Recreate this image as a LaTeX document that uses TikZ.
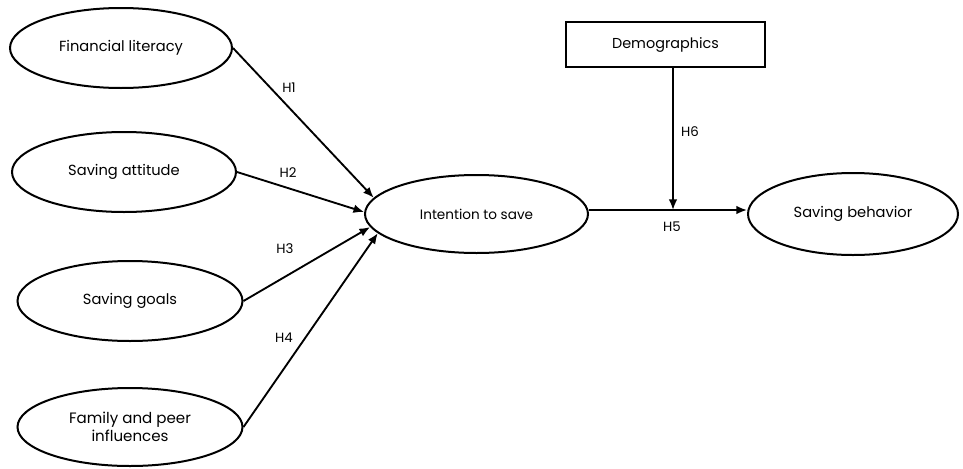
\documentclass[tikz,border=0pt]{standalone}
\usepackage{fontspec}
\setmainfont{Poppins}
\usetikzlibrary{shapes.geometric,arrows.meta}
\begin{document}
\begin{tikzpicture}[x=0.75pt,y=-0.75pt,
  construct/.style={ellipse,draw,line width=1.5pt,inner sep=0pt,font=\fontsize{11}{13}\selectfont,align=center},
  boxnode/.style={rectangle,draw,line width=1.5pt,inner sep=0pt,font=\fontsize{10.8}{13}\selectfont},
  path/.style={line width=1.4pt,-{Latex[length=8pt,width=6.5pt]}},
  hlab/.style={font=\fontsize{10}{12}\selectfont,inner sep=1pt}]
\useasboundingbox (0,0) rectangle (963,468);
\node[construct,minimum width=166.5pt,minimum height=60pt] (fl) at (121,48) {Financial literacy};
\node[construct,minimum width=168pt,minimum height=60pt] (sa) at (124,172) {Saving attitude};
\node[construct,minimum width=168.75pt,minimum height=60pt] (sg) at (130,301) {Saving goals};
\node[construct,minimum width=168.75pt,minimum height=58.5pt,font=\fontsize{11.3}{13.5}\selectfont] (fp) at (130,427) {Family and peer\\influences};
\node[construct,minimum width=167.25pt,minimum height=58.5pt,font=\fontsize{10.2}{12}\selectfont] (int) at (476.5,214) {Intention to save};
\node[construct,minimum width=157.5pt,minimum height=61.5pt] (sb) at (853,214) {Saving behavior};
\node[boxnode,minimum width=149.25pt,minimum height=33.75pt] (dem) at (665.5,44.5) {Demographics};
\coordinate (j) at (673,210);
\draw[path] (fl.east) -- (int.171);
\draw[path] (sa.east) -- (int.179);
\draw[path] (sg.east) -- (int.187);
\draw[path] (fp.east) -- (int.191);
\draw[path] (int.east |- j) -- (sb.west |- j);
\draw[path] (dem.south -| j) -- (j);
\node[hlab] (h1) at (289,88) {H1};
\node[hlab] (h2) at (288,173) {H2};
\node[hlab] (h3) at (285,249) {H3};
\node[hlab] (h4) at (284,338) {H4};
\node[hlab] (h5) at (672,227) {H5};
\node[hlab] (h6) at (690,132) {H6};
\end{tikzpicture}
\end{document}
